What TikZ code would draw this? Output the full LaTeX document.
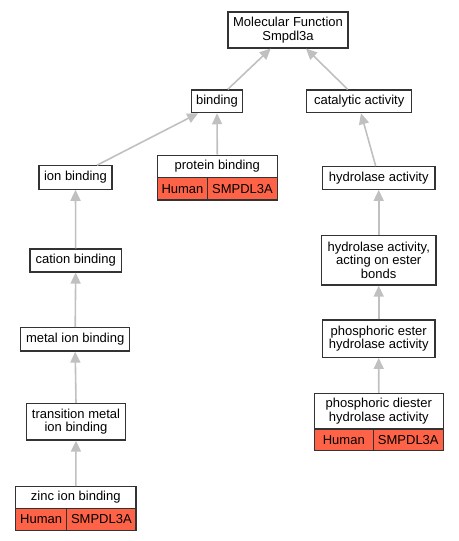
\documentclass[tikz,border=0pt]{standalone}
\usepackage{fontspec}
\setmainfont{Liberation Sans}
\usetikzlibrary{arrows.meta}
\definecolor{edgegray}{HTML}{C0C0C0}
\definecolor{boxline}{HTML}{333333}
\definecolor{cellred}{HTML}{FF6347}
\tikzset{
  wh/.style 2 args={minimum width=#1*0.75pt, minimum height=#2*0.75pt},
  box/.style={draw=boxline, line width=0.9pt, fill=white, inner sep=0pt, align=center,
    font=\fontsize{9.75}{10.3}\selectfont},
  rootbox/.style={box, line width=1.5pt},
  cell/.style={box, fill=cellred},
  edge/.style={draw=edgegray, line width=1.2pt, -{Triangle[length=11*0.75pt, width=10*0.75pt]}},
}
\begin{document}
\begin{tikzpicture}[x=0.75pt, y=-0.75pt]
\useasboundingbox (0,0) rectangle (459,541);
% nodes
\node[rootbox, wh={120}{35.5}] (root) at (288,29.8) {Molecular Function\\Smpdl3a};
\node[box, wh={50.5}{22.7}] (binding) at (217,101.3) {binding};
\node[box, wh={105}{22.7}] (catalytic) at (359.2,101.3) {catalytic activity};
% protein binding
\node[box, wh={120}{22.4}] (protein) at (217.3,166.5) {protein binding};
\node[cell, wh={50.4}{22.3}] (proteinH) at (182.5,188.8) {Human};
\node[cell, wh={69.6}{22.3}] (proteinS) at (242.5,188.8) {SMPDL3A};
% left column
\node[box, wh={73}{23.4}] (ion) at (75.5,177.5) {ion binding};
\node[box, wh={91.3}{23}] (cation) at (75.7,260.5) {cation binding};
\node[box, wh={109}{23.4}] (metal) at (75.2,339.3) {metal ion binding};
\node[box, wh={98.6}{36.7}] (transition) at (76,421.7) {transition metal\\ion binding};
\node[box, wh={120.3}{21.6}] (zinc) at (75.8,497.5) {zinc ion binding};
\node[cell, wh={51}{22.4}] (zincH) at (41.2,519.5) {Human};
\node[cell, wh={69.3}{22.4}] (zincS) at (101.35,519.5) {SMPDL3A};
% right column
\node[box, wh={112.7}{22.6}] (hydro) at (378.7,178) {hydrolase activity};
\node[box, wh={114.7}{49.7}] (ester) at (378.7,260.2) {hydrolase activity,\\acting on ester\\bonds};
\node[box, wh={112.7}{37.3}] (phester) at (378.7,338.7) {phosphoric ester\\hydrolase activity};
\node[box, wh={129}{35.7}] (diester) at (378.8,411.2) {phosphoric diester\\hydrolase activity};
\node[cell, wh={59}{21.7}] (diesterH) at (343.8,439.8) {Human};
\node[cell, wh={70}{21.7}] (diesterS) at (408.3,439.8) {SMPDL3A};
% edges
\draw[edge] ([xshift=36.6*0.75pt]binding.north west) -- ([xshift=43.7*0.75pt]root.south west);
\draw[edge] ([xshift=41.6*0.75pt]catalytic.north west) -- ([xshift=-43*0.75pt]root.south east);
\draw[edge] ([xshift=-15.6*0.75pt]ion.north east) -- ([xshift=7*0.75pt]binding.south west);
\draw[edge] (protein.north) -- (binding.south);
\draw[edge] (cation.north) -- (ion.south);
\draw[edge] (metal.north) -- (cation.south);
\draw[edge] (transition.north) -- (metal.south);
\draw[edge] (zinc.north) -- (transition.south);
\draw[edge] ([xshift=-3*0.75pt]hydro.north) -- ([xshift=1.8*0.75pt]catalytic.south);
\draw[edge] (ester.north) -- (hydro.south);
\draw[edge] (phester.north) -- (ester.south);
\draw[edge] (diester.north) -- (phester.south);
\end{tikzpicture}
\end{document}
